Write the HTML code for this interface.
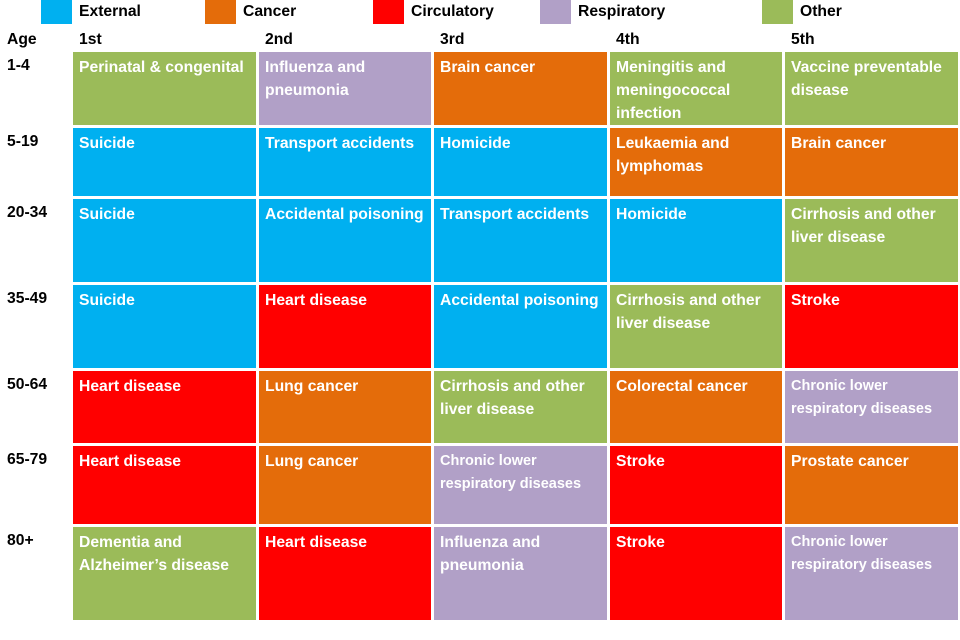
<!DOCTYPE html>
<html><head><meta charset="utf-8"><style>
body{margin:0;width:960px;height:640px;background:#fff;position:relative;overflow:hidden;font-family:"Liberation Sans",Arial,sans-serif;font-weight:bold}
.cell{position:absolute;color:#fff;font-size:15.7px;line-height:23px;padding:4px 6px;box-sizing:border-box}
.sm{font-size:14.5px}
.h{position:absolute;color:#000;font-size:15.7px}
.sw{position:absolute;top:0;height:24px;width:31px}
</style></head><body>
<div id="legend"></div>
<div id="grid"></div>
<script>
const categories=["External","Cancer","Circulatory","Respiratory","Other"];
const colors={External:"#00b0f0",Cancer:"#e46c0a",Circulatory:"#ff0000",Respiratory:"#b1a0c7",Other:"#9bbb59"};
const legendX=[41,205,373,540,762];
const ranks=["1st","2nd","3rd","4th","5th"];
const ages=["1-4","5-19","20-34","35-49","50-64","65-79","80+"];
const causes=[
["Perinatal & congenital","Influenza and pneumonia","Brain cancer","Meningitis and meningococcal infection","Vaccine preventable disease"],
["Suicide","Transport accidents","Homicide","Leukaemia and lymphomas","Brain cancer"],
["Suicide","Accidental poisoning","Transport accidents","Homicide","Cirrhosis and other liver disease"],
["Suicide","Heart disease","Accidental poisoning","Cirrhosis and other liver disease","Stroke"],
["Heart disease","Lung cancer","Cirrhosis and other liver disease","Colorectal cancer","Chronic lower respiratory diseases"],
["Heart disease","Lung cancer","Chronic lower respiratory diseases","Stroke","Prostate cancer"],
["Dementia and Alzheimer’s disease","Heart disease","Influenza and pneumonia","Stroke","Chronic lower respiratory diseases"]];
const groups=[
["Other","Respiratory","Cancer","Other","Other"],
["External","External","External","Cancer","Cancer"],
["External","External","External","External","Other"],
["External","Circulatory","External","Other","Circulatory"],
["Circulatory","Cancer","Other","Cancer","Respiratory"],
["Circulatory","Cancer","Respiratory","Circulatory","Cancer"],
["Other","Circulatory","Respiratory","Circulatory","Respiratory"]];
const colX=[73,259,434,610,785,961];
const rowY=[52,128,199,285,371,446,527,623];
const lg=document.getElementById('legend');
categories.forEach((c,i)=>{
 const s=document.createElement('div');s.className='sw';s.style.left=legendX[i]+'px';s.style.background=colors[c];
 
 
 lg.appendChild(s);
 const t=document.createElement('div');t.className='h';t.style.left=(legendX[i]+38)+'px';t.style.top='3px';t.textContent=c;
 
 
 lg.appendChild(t);
});
const g=document.getElementById('grid');
const ah=document.createElement('div');ah.className='h';ah.style.left='7px';ah.style.top='31px';ah.textContent='Age';


g.appendChild(ah);
ranks.forEach((r,i)=>{
 const t=document.createElement('div');t.className='h';t.style.left=(colX[i]+6)+'px';t.style.top='31px';t.textContent=r;
 
 
 g.appendChild(t);
});
ages.forEach((a,r)=>{
 const t=document.createElement('div');t.className='h';t.style.left='7px';t.style.top=(rowY[r]+5)+'px';t.textContent=a;
 
 
 g.appendChild(t);
 for(let c=0;c<5;c++){
  const d=document.createElement('div');d.className='cell';
  const txt=causes[r][c];
  if(txt.startsWith('Chronic'))d.className+=' sm';
  d.style.left=colX[c]+'px';d.style.top=rowY[r]+'px';
  d.style.width=(colX[c+1]-colX[c]-3)+'px';d.style.height=(rowY[r+1]-rowY[r]-3)+'px';
  d.style.background=colors[groups[r][c]];
  d.textContent=txt;
  
  
  g.appendChild(d);
 }
});
</script>
</body></html>
